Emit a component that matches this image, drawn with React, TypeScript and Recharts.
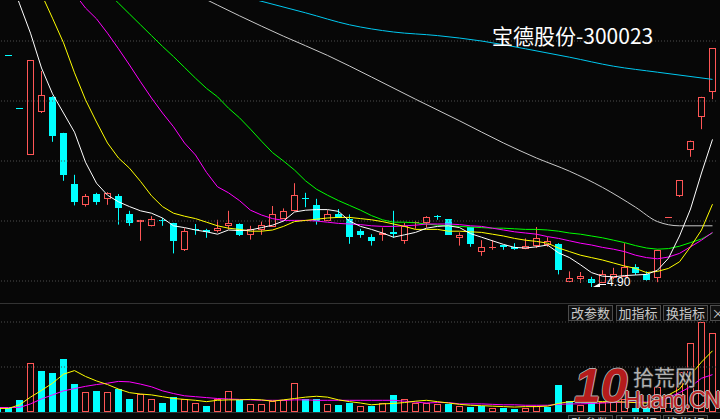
import React from 'react'
import { ComposedChart, Bar, Line, XAxis, YAxis, ReferenceLine } from 'recharts'

// day slots, -1 is the candle cut off at the left edge
const days = Array.from({ length: 66 }, (_, k) => k - 1)

const opens = [
  9.74, 8.77, 7.89, 7.10, 7.81, 8.07, 7.47, 6.62, 6.26, 6.45,
  6.36, 6.42, 6.12, 5.98, 5.91, 6.02, 5.97, 5.51, 5.87, 5.85,
  5.83, 5.91, 5.95, 5.77, 5.85, 5.90, 6.04, 6.16, 6.39, 6.27,
  6.00, 6.11, 6.03, 5.83, 5.73, 5.77, 5.82, 5.66, 5.97, 5.96,
  6.08, 6.03, 5.71, 5.90, 5.48, 5.55, 5.60, 5.56, 5.53, 5.58,
  5.60, 5.61, 4.98, 5.03, 5.04, 4.97, 5.05, 5.07, 5.23, 5.12,
  5.05, 6.07, 6.41, 7.18, 7.74, 8.15,
]
const highs = [
  9.74, 8.77, 7.89, 8.68, 8.50, 8.08, 7.47, 6.77, 6.45, 6.47,
  6.48, 6.45, 6.17, 6.02, 6.08, 6.05, 5.97, 5.88, 5.95, 5.87,
  6.02, 6.17, 5.96, 5.92, 5.99, 6.25, 6.21, 6.63, 6.47, 6.37,
  6.18, 6.20, 6.11, 5.87, 5.78, 5.89, 6.17, 5.97, 6.00, 6.08,
  6.10, 6.03, 5.81, 5.90, 5.68, 5.68, 5.60, 5.63, 5.71, 5.90,
  5.73, 5.63, 5.16, 5.15, 5.07, 5.18, 5.22, 5.63, 5.28, 5.16,
  5.52, 6.07, 6.68, 7.34, 8.07, 8.88,
]
const lows = [
  9.74, 8.77, 7.89, 7.10, 7.80, 7.32, 6.67, 6.26, 6.24, 6.27,
  6.27, 5.94, 5.92, 5.67, 5.91, 5.92, 5.46, 5.50, 5.77, 5.72,
  5.81, 5.86, 5.75, 5.69, 5.77, 5.90, 6.04, 6.16, 6.23, 5.94,
  6.00, 6.05, 5.62, 5.72, 5.59, 5.67, 5.72, 5.62, 5.87, 5.89,
  6.02, 5.77, 5.59, 5.57, 5.42, 5.52, 5.52, 5.52, 5.53, 5.55,
  5.57, 5.11, 4.98, 4.97, 4.90, 4.97, 5.03, 5.07, 5.10, 5.00,
  4.98, 6.07, 6.40, 7.07, 7.53, 8.03,
]
const closes = [
  9.74, 8.77, 7.89, 8.68, 8.10, 7.42, 6.76, 6.32, 6.41, 6.32,
  6.46, 6.22, 5.97, 6.02, 6.03, 6.00, 5.67, 5.83, 5.85, 5.81,
  5.88, 5.97, 5.77, 5.86, 5.93, 6.12, 6.16, 6.43, 6.37, 6.00,
  6.11, 6.05, 5.73, 5.77, 5.66, 5.80, 5.79, 5.92, 5.99, 6.07,
  6.07, 5.77, 5.76, 5.62, 5.56, 5.57, 5.56, 5.53, 5.58, 5.71,
  5.66, 5.19, 5.05, 5.08, 4.97, 5.11, 5.12, 5.24, 5.14, 5.02,
  5.52, 6.07, 6.68, 7.34, 8.07, 8.88,
]

// moving averages
const ma5 = [
  10.62, 10.12, 9.62, 9.13, 8.55, 8.12, 7.80, 7.48, 6.98, 6.63,
  6.43, 6.32, 6.24, 6.17, 6.13, 6.05, 5.92, 5.89, 5.85, 5.82,
  5.78, 5.85, 5.84, 5.85, 5.89, 5.93, 6.00, 6.15, 6.18, 6.19,
  6.19, 6.16, 6.00, 5.91, 5.86, 5.80, 5.73, 5.77, 5.81, 5.88,
  5.91, 5.92, 5.89, 5.79, 5.73, 5.67, 5.61, 5.56, 5.55, 5.57,
  5.60, 5.47, 5.39, 5.27, 5.14, 5.08, 5.07, 5.09, 5.10, 5.11,
  5.18, 5.38, 5.75, 6.20, 6.80, 7.36,
]
const ma10 = [
  11.45, 11.03, 10.62, 10.20, 9.78, 9.38, 8.97, 8.47, 8.02, 7.65,
  7.30, 7.05, 6.88, 6.66, 6.42, 6.24, 6.13, 6.08, 6.04, 5.98,
  5.92, 5.88, 5.86, 5.83, 5.83, 5.85, 5.91, 5.99, 6.01, 6.03,
  6.05, 6.06, 6.06, 6.04, 6.02, 5.99, 5.95, 5.91, 5.86, 5.86,
  5.86, 5.83, 5.83, 5.82, 5.81, 5.78, 5.75, 5.71, 5.68, 5.66,
  5.63, 5.55, 5.49, 5.43, 5.39, 5.35, 5.30, 5.25, 5.21, 5.14,
  5.16, 5.21, 5.32, 5.57, 5.85, 6.28,
]
const ma20 = [
  11.33, 11.12, 10.90, 10.67, 10.45, 10.23, 10.02, 9.79, 9.55, 9.37,
  9.13, 8.87, 8.60, 8.32, 8.05, 7.80, 7.57, 7.30, 7.10, 6.81,
  6.57, 6.47, 6.34, 6.18, 6.10, 6.04, 6.01, 6.01, 6.01, 6.00,
  5.98, 5.96, 5.95, 5.94, 5.92, 5.91, 5.91, 5.92, 5.93, 5.95,
  5.95, 5.95, 5.94, 5.92, 5.91, 5.88, 5.85, 5.82, 5.80, 5.78,
  5.74, 5.71, 5.67, 5.63, 5.60, 5.56, 5.53, 5.49, 5.43, 5.39,
  5.37, 5.40, 5.46, 5.57, 5.68, 5.81,
]
const ma30 = [
  null, null, null, null, null, null, null, null, null, null,
  9.81, 9.63, 9.45, 9.27, 9.09, 8.91, 8.74, 8.56, 8.38, 8.21,
  8.07, 7.88, 7.72, 7.53, 7.33, 7.14, 7.00, 6.85, 6.67, 6.53,
  6.43, 6.34, 6.26, 6.18, 6.09, 6.02, 5.98, 5.98, 5.97, 5.95,
  5.93, 5.92, 5.91, 5.90, 5.89, 5.88, 5.88, 5.87, 5.86, 5.86,
  5.85, 5.83, 5.80, 5.78, 5.75, 5.72, 5.68, 5.64, 5.59, 5.55,
  5.53, 5.54, 5.58, 5.64, 5.70, 5.80,
]
// long averages, read at a few days only
const ma60 = [
  null, null, null, null, null, null, null, null, null, null,
  null, null, null, null, null, null, null, null, 9.78, null,
  null, null, 9.42, null, null, null, 9.08, null, null, null,
  8.76, null, null, null, 8.40, null, null, null, 8.03, null,
  null, null, 7.67, null, null, null, 7.30, null, null, 7.05,
  null, null, 6.83, null, null, 6.56, null, null, 6.23, null,
  5.99, null, 5.92, null, null, 5.92,
]
const ma120 = [
  null, null, null, null, null, null, null, null, null, null,
  null, null, null, null, null, null, null, null, null, null,
  null, null, null, 9.71, null, null, null, null, 9.47, null,
  null, null, 9.27, null, null, null, 9.15, null, null, null,
  9.09, null, null, null, 9.00, null, null, null, 8.87, null,
  null, null, 8.73, null, null, null, 8.58, null, null, null,
  8.48, null, null, null, null, 8.36,
]

const vols = [
  0.8, 0.8, 2.7, 10.8, 9.1, 8.7, 11.8, 6.2, 4.4, 4.7,
  4.4, 5.1, 2.9, 4.1, 2.8, 2.0, 3.3, 2.9, 2.1, 1.3,
  2.9, 4.6, 2.7, 1.7, 1.7, 2.4, 2.7, 6.4, 3.0, 2.9,
  1.7, 1.6, 2.1, 1.3, 1.4, 1.9, 3.8, 2.8, 2.1, 2.1,
  1.8, 1.8, 1.3, 1.1, 1.3, 0.8, 0.8, 0.6, 1.0, 1.3,
  1.2, 6.0, 2.4, 1.5, 2.1, 2.2, 2.2, 3.0, 0.9, 0.9,
  5.5, 2.0, 9.0, 15.3, 19.9, 17.5,
]
const volUp = [
  0, 0, 0, 1, 0, 0, 0, 0, 1, 0,
  1, 0, 0, 1, 1, 0, 0, 1, 1, 0,
  1, 1, 0, 1, 1, 1, 1, 1, 0, 0,
  1, 0, 0, 1, 0, 1, 0, 1, 1, 1,
  1, 0, 1, 0, 0, 1, 0, 0, 1, 1,
  0, 0, 0, 1, 0, 1, 1, 1, 0, 0,
  1, 1, 1, 1, 1, 1,
]
const volMa5 = [
  0.8, 0.8, 1.6, 3.3, 4.8, 6.4, 8.4, 9.2, 7.9, 6.9,
  6.1, 5.1, 4.3, 4.0, 3.8, 3.4, 3.0, 2.8, 2.6, 2.3,
  2.6, 2.7, 2.7, 2.8, 2.7, 2.4, 2.7, 3.0, 3.3, 3.5,
  3.3, 2.7, 2.3, 2.0, 1.6, 1.8, 1.9, 2.1, 2.4, 2.6,
  2.3, 2.0, 1.7, 1.5, 1.4, 1.3, 1.2, 1.1, 1.2, 1.2,
  1.3, 1.9, 2.3, 2.4, 2.3, 2.3, 2.3, 2.2, 2.1, 2.0,
  2.7, 3.8, 5.1, 8.2, 11.1, 13.6,
]
const volMa10 = [
  1.0, 1.0, 1.0, 1.8, 2.9, 3.8, 4.7, 5.2, 5.7, 6.1,
  6.4, 6.8, 6.7, 6.2, 5.6, 4.7, 4.1, 3.6, 3.4, 3.2,
  3.0, 2.9, 2.8, 2.7, 2.6, 2.6, 2.6, 2.7, 2.7, 2.6,
  2.6, 2.6, 2.6, 2.6, 2.6, 2.6, 2.6, 2.4, 2.2, 2.0,
  2.1, 2.1, 1.8, 1.8, 1.8, 1.7, 1.6, 1.6, 1.5, 1.5,
  1.5, 1.7, 1.8, 1.8, 1.9, 2.0, 2.1, 2.2, 2.2, 2.2,
  2.6, 3.2, 4.3, 5.6, 7.5, 8.3,
]

const priceTicks = [5, 6, 7, 8, 9]
const volTicks = [10, 20]
const buttons = ['改参数', '加指标', '换指标']

const BG = '#070707'
const RED = '#ff5656'
const CYAN = '#00ffff'

const rows = days.map((d, k) => {
  const up = closes[k] > opens[k] || (closes[k] === opens[k] && k > 0 && closes[k] > closes[k - 1])
  return {
    day: d,
    open: opens[k], high: highs[k], low: lows[k], close: closes[k],
    range: [lows[k], highs[k]],
    up,
    ma5: ma5[k], ma10: ma10[k], ma20: ma20[k], ma30: ma30[k], ma60: ma60[k], ma120: ma120[k],
    vol: vols[k], volUp: volUp[k] === 1, volMa5: volMa5[k], volMa10: volMa10[k],
  }
})

function Candle(props: any) {
  const { x, y, width, height, payload } = props
  if (x == null || y == null) return null
  const top = Math.min(y, y + height)
  const h = Math.abs(height)
  const span = payload.high - payload.low
  const py = (v: number) => (span > 0 ? top + ((payload.high - v) / span) * h : top)
  const cx = x + width / 2
  const color = payload.up ? RED : CYAN
  if (span <= 0) {
    const yy = Math.round(top) + 0.5
    return <line x1={x} x2={x + width} y1={yy} y2={yy} stroke={color} />
  }
  const t = Math.round(py(Math.max(payload.open, payload.close)))
  let b = Math.round(py(Math.min(payload.open, payload.close)))
  if (b - t < 1) b = t + 1
  const hy = py(payload.high)
  const ly = py(payload.low)
  if (payload.up) {
    return (
      <g>
        {hy < t && <line x1={cx} x2={cx} y1={hy} y2={t} stroke={RED} />}
        {ly > b && <line x1={cx} x2={cx} y1={b} y2={ly} stroke={RED} />}
        {b - t > 2 ? (
          <rect x={x + 0.5} y={t + 0.5} width={width - 1} height={b - t - 1} fill={BG} stroke={RED} />
        ) : (
          <rect x={x} y={t} width={width} height={b - t} fill={RED} />
        )}
      </g>
    )
  }
  return (
    <g>
      <line x1={cx} x2={cx} y1={hy} y2={ly} stroke={CYAN} />
      <rect x={x} y={t} width={width} height={b - t} fill={CYAN} />
    </g>
  )
}

function VolBar(props: any) {
  const { x, y, width, height, payload } = props
  if (x == null || y == null || !height) return null
  const t = Math.round(y)
  const b = Math.round(y + height)
  if (payload.volUp) {
    return <rect x={x + 0.5} y={t + 0.5} width={width - 1} height={Math.max(b - t - 1, 0)} fill={BG} stroke={RED} />
  }
  return <rect x={x} y={t} width={width} height={b - t} fill={CYAN} />
}

const btnStyle: React.CSSProperties = {
  position: 'absolute',
  height: 14,
  border: '1px solid #4c4c4c',
  background: '#101010',
  color: '#c8c8c8',
  fontFamily: '"Noto Sans CJK SC", sans-serif',
  fontSize: 13,
  lineHeight: '14px',
  textAlign: 'center',
  boxSizing: 'content-box',
}

const outline = (c: string) =>
  `1px 0 0 ${c}, -1px 0 0 ${c}, 0 1px 0 ${c}, 0 -1px 0 ${c}`

export default function App() {
  return (
    <div style={{ position: 'absolute', left: 0, top: 0, width: 720, height: 419, overflow: 'hidden', background: BG }}>
      <ComposedChart
        width={726}
        height={302}
        data={rows}
        margin={{ top: 1, right: 0, bottom: 1, left: 0 }}
        style={{ position: 'absolute', left: -8, top: 0 }}
      >
        <XAxis dataKey="day" hide />
        <YAxis hide domain={[14 / 3, 29 / 3]} allowDataOverflow />
        {priceTicks.map(p => (
          <ReferenceLine key={p} y={p} stroke="#4e4e4e" strokeDasharray="1 2" />
        ))}
        <Line dataKey="ma120" stroke="#00c8f0" dot={false} connectNulls type="monotone" isAnimationActive={false} />
        <Line dataKey="ma60" stroke="#c8c8c8" dot={false} connectNulls type="monotone" isAnimationActive={false} />
        <Line dataKey="ma30" stroke="#00ff00" dot={false} connectNulls isAnimationActive={false} />
        <Line dataKey="ma20" stroke="#ff00ff" dot={false} isAnimationActive={false} />
        <Line dataKey="ma10" stroke="#ffff00" dot={false} isAnimationActive={false} />
        <Line dataKey="ma5" stroke="#ffffff" dot={false} isAnimationActive={false} />
        <Bar dataKey="range" barSize={7} shape={<Candle />} isAnimationActive={false} />
      </ComposedChart>

      <div style={{ position: 'absolute', left: 0, top: 303, width: 720, height: 1, background: '#333' }} />

      <ComposedChart
        width={726}
        height={110}
        data={rows}
        margin={{ top: 1, right: 0, bottom: 1, left: 0 }}
        style={{ position: 'absolute', left: -8, top: 303 }}
      >
        <XAxis dataKey="day" hide />
        <YAxis hide domain={[0, 24]} allowDataOverflow />
        {volTicks.map(v => (
          <ReferenceLine key={v} y={v} stroke="#4e4e4e" strokeDasharray="1 2" />
        ))}
        <Bar dataKey="vol" barSize={7} shape={<VolBar />} isAnimationActive={false} />
        <Line dataKey="volMa10" stroke="#ff00ff" dot={false} isAnimationActive={false} />
        <Line dataKey="volMa5" stroke="#ffff00" dot={false} isAnimationActive={false} />
      </ComposedChart>

      <div style={{ position: 'absolute', left: 0, top: 412, width: 720, height: 1, background: '#333' }} />

      <div
        style={{
          position: 'absolute', left: 492, top: 21, color: '#ffffff', whiteSpace: 'nowrap',
          fontFamily: '"Noto Sans CJK SC", sans-serif', fontSize: 21, lineHeight: '28px',
        }}
      >
        宝德股份-300023
      </div>

      <svg width={40} height={12} style={{ position: 'absolute', left: 592, top: 278 }}>
        <polygon points="1,9 8,5 8,9" fill="#ffffff" />
        <line x1={8} x2={14} y1={6.5} y2={6.5} stroke="#ffffff" />
      </svg>
      <div
        style={{
          position: 'absolute', left: 607, top: 275, color: '#ffffff',
          fontFamily: '"Liberation Sans", Arial, sans-serif', fontSize: 12, lineHeight: '14px',
        }}
      >
        4.90
      </div>

      {buttons.map((b, i) => (
        <div key={b} style={{ ...btnStyle, left: 568 + i * 47.5, top: 305, width: 43 }}>{b}</div>
      ))}
      <div style={{ ...btnStyle, left: 710, top: 305, width: 14 }}>×</div>
      {buttons.map((b, i) => (
        <div key={'n' + b} style={{ ...btnStyle, left: 568 + i * 47.5, top: 415, width: 43 }}>{b}</div>
      ))}

      <div style={{ position: 'absolute', left: 574, top: 360, opacity: 0.9, pointerEvents: 'none' }}>
        <div
          style={{
            position: 'absolute', left: 0, top: 0, color: '#c81e1e', fontWeight: 700, fontStyle: 'italic',
            fontFamily: '"Liberation Sans", Arial, sans-serif', fontSize: 48, lineHeight: '52px',
            textShadow: outline('#bdbdbd'),
          }}
        >
          10
        </div>
        <div
          style={{
            position: 'absolute', left: 59, top: 6, color: '#c4c4c4', whiteSpace: 'nowrap',
            fontFamily: '"Noto Sans CJK SC", sans-serif', fontSize: 21, lineHeight: '21px',
            textShadow: outline('#202020'),
          }}
        >
          拾荒网
        </div>
        <div
          style={{
            position: 'absolute', left: 50, top: 30, color: '#c82828', whiteSpace: 'nowrap',
            fontFamily: '"Liberation Sans", Arial, sans-serif', fontSize: 23, lineHeight: '21px',
            letterSpacing: -1.5, textShadow: outline('#d0d0d0'),
          }}
        >
          Huang.CN
        </div>
      </div>
    </div>
  )
}
